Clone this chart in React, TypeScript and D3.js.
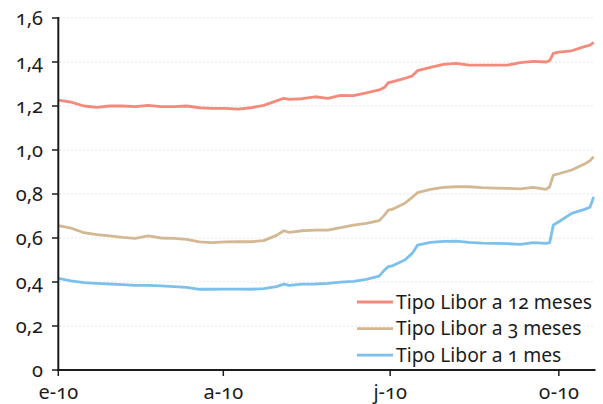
import React from "react";
import { scaleLinear, scaleTime, line, timeParse } from "d3";

const dates = [
  "2010-01-01", "2010-01-08", "2010-01-15", "2010-01-22", "2010-01-29",
  "2010-02-05", "2010-02-12", "2010-02-19", "2010-02-26", "2010-03-05",
  "2010-03-12", "2010-03-19", "2010-03-26", "2010-04-02", "2010-04-09",
  "2010-04-16", "2010-04-23", "2010-04-30", "2010-05-04", "2010-05-07",
  "2010-05-14", "2010-05-21", "2010-05-28", "2010-06-04", "2010-06-11",
  "2010-06-18", "2010-06-25", "2010-06-28", "2010-06-30", "2010-07-02",
  "2010-07-09", "2010-07-13", "2010-07-16", "2010-07-23", "2010-07-30",
  "2010-08-06", "2010-08-13", "2010-08-20", "2010-08-27", "2010-09-03",
  "2010-09-10", "2010-09-17", "2010-09-24", "2010-09-26", "2010-09-28",
  "2010-10-01", "2010-10-08", "2010-10-15", "2010-10-18", "2010-10-20",
];

const libor12 = [
  1.227, 1.218, 1.2, 1.194, 1.2, 1.2, 1.197, 1.203, 1.197, 1.197,
  1.2, 1.192, 1.189, 1.189, 1.186, 1.192, 1.203, 1.223, 1.235, 1.23,
  1.233, 1.242, 1.235, 1.248, 1.247, 1.26, 1.273, 1.285, 1.306, 1.31,
  1.326, 1.336, 1.361, 1.376, 1.389, 1.394, 1.386, 1.386, 1.386, 1.386,
  1.397, 1.403, 1.4, 1.406, 1.439, 1.445, 1.451, 1.47, 1.477, 1.489,
];

const libor3 = [
  0.656, 0.645, 0.624, 0.615, 0.61, 0.603, 0.598, 0.61, 0.6, 0.598,
  0.594, 0.582, 0.579, 0.582, 0.583, 0.583, 0.588, 0.612, 0.633, 0.626,
  0.633, 0.636, 0.636, 0.647, 0.658, 0.667, 0.679, 0.705, 0.727, 0.73,
  0.758, 0.785, 0.806, 0.821, 0.83, 0.833, 0.833, 0.829, 0.827, 0.826,
  0.823, 0.83, 0.821, 0.833, 0.886, 0.892, 0.909, 0.936, 0.951, 0.97,
];

const libor1 = [
  0.417, 0.405, 0.397, 0.394, 0.391, 0.388, 0.385, 0.385, 0.382, 0.379,
  0.376, 0.367, 0.367, 0.368, 0.368, 0.367, 0.37, 0.379, 0.39, 0.385,
  0.39, 0.391, 0.394, 0.399, 0.403, 0.412, 0.427, 0.455, 0.47, 0.473,
  0.5, 0.53, 0.568, 0.58, 0.585, 0.586, 0.58, 0.577, 0.576, 0.574,
  0.571, 0.579, 0.576, 0.579, 0.659, 0.674, 0.712, 0.73, 0.74, 0.787,
];

const yTicks = [0, 0.2, 0.4, 0.6, 0.8, 1.0, 1.2, 1.4, 1.6];
const xTickDates = ["2010-01-01", "2010-04-01", "2010-07-01", "2010-10-01"];
const xTickLabels = ["e-10", "a-10", "j-10", "o-10"];

const seriesNames = ["Tipo Libor a 12 meses", "Tipo Libor a 3 meses", "Tipo Libor a 1 mes"];
const seriesColors = ["#f48a7b", "#d3b894", "#7cc0ec"];

const parse = timeParse("%Y-%m-%d");

function fmtY(v: number) {
  if (v === 0) return "0";
  return v.toFixed(1).replace(".", ",");
}

export default function App() {
  const W = 603;
  const H = 404;
  const x = scaleTime()
    .domain([parse("2010-01-01")!, parse("2010-10-21")!])
    .range([58.3, 595.5]);
  const y = scaleLinear().domain([0, 1.6]).range([370, 18]);

  const parsed = dates.map((d) => parse(d)!);
  const gen = line<number>()
    .x((_, i) => x(parsed[i]))
    .y((v) => y(v));

  const series = [libor12, libor3, libor1];
  const font = "'Noto Sans', sans-serif";
  const ink = "#1c1c1c";

  return (
    <svg
      width={W}
      height={H}
      style={{ position: "absolute", left: 0, top: 0, background: "#fff" }}
    >
      {yTicks.slice(1).map((t) => (
        <line
          key={`g${t}`}
          x1={59}
          x2={595}
          y1={y(t)}
          y2={y(t)}
          stroke="#e6e6e6"
          strokeWidth={1}
          strokeDasharray="2,2"
        />
      ))}
      {series.map((s, i) => (
        <path
          key={seriesNames[i]}
          d={gen(s)!}
          fill="none"
          stroke={seriesColors[i]}
          strokeWidth={2.8}
          strokeLinejoin="round"
        />
      ))}
      {/* axes */}
      <line x1={58.3} x2={58.3} y1={17} y2={371} stroke={ink} strokeWidth={2} />
      <line x1={57} x2={595.5} y1={370} y2={370} stroke={ink} strokeWidth={2} />
      {yTicks.map((t) => (
        <g key={`y${t}`}>
          <line x1={52} x2={58} y1={y(t)} y2={y(t)} stroke={ink} strokeWidth={1.5} />
          <text
            x={43}
            y={y(t)}
            dy="0.35em"
            textAnchor="end"
            fontFamily={font}
            fontSize={20}
            fill={ink}
            style={{ fontVariantNumeric: "oldstyle-nums" }}
          >
            {fmtY(t)}
          </text>
        </g>
      ))}
      {xTickDates.map((d, i) => {
        const px = x(parse(d)!);
        return (
          <g key={d}>
            <line x1={px} x2={px} y1={370} y2={376} stroke={ink} strokeWidth={1.5} />
            <text
              x={px}
              y={399}
              textAnchor="middle"
              fontFamily={font}
              fontSize={20}
              fill={ink}
              style={{ fontVariantNumeric: "oldstyle-nums" }}
            >
              {xTickLabels[i]}
            </text>
          </g>
        );
      })}
      {/* legend */}
      {seriesNames.map((n, i) => {
        const ly = 302 + i * 26.6;
        return (
          <g key={`l${n}`}>
            <line x1={357} x2={393} y1={ly} y2={ly} stroke={seriesColors[i]} strokeWidth={2.8} />
            <text
              x={396}
              y={ly}
              dy="0.35em"
              fontFamily={font}
              fontSize={19.3}
              fill={ink}
              style={{ fontVariantNumeric: "oldstyle-nums" }}
            >
              {n}
            </text>
          </g>
        );
      })}
    </svg>
  );
}
